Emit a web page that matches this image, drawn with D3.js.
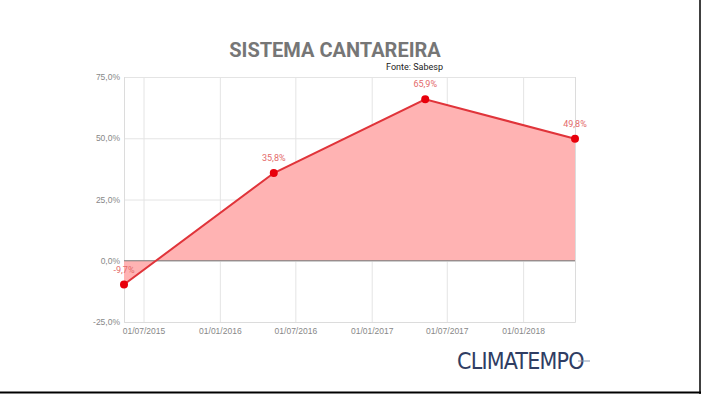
<!DOCTYPE html>
<html>
<head>
<meta charset="utf-8">
<script src="https://cdn.jsdelivr.net/npm/d3@7"></script>
<style>
  body { margin: 0; background: #fff; }
  svg { display: block; font-family: Roboto, "Open Sans", sans-serif; }
</style>
</head>
<body>
<svg id="drawing_region"></svg>
<script>
// data
const dates = ["2015-05-15", "2016-05-10", "2017-05-10", "2018-05-06"];
const values = [-9.7, 35.8, 65.9, 49.8];
const yTicks = [-25, 0, 25, 50, 75];
const xTicks = ["2015-07-01", "2016-01-01", "2016-07-01", "2017-01-01", "2017-07-01", "2018-01-01"];

const parse = d3.timeParse("%Y-%m-%d");
const data = dates.map((d, i) => ({ date: parse(d), value: values[i] }));

const config = {
    width: 701,
    height: 394,
    margin: { top: 77, right: 126, bottom: 72, left: 124 }
};

const svg = d3.select('#drawing_region')
    .attr('width', config.width)
    .attr('height', config.height);

const inner_width = config.width - config.margin.left - config.margin.right;
const inner_height = config.height - config.margin.top - config.margin.bottom;

const chart = svg.append('g')
    .attr('transform', `translate(${config.margin.left}, ${config.margin.top})`);

const x = d3.scaleTime()
    .domain(d3.extent(data, d => d.date))
    .range([0, inner_width]);

const y = d3.scaleLinear()
    .domain([-25, 75])
    .range([inner_height, 0]);

const fmt = v => d3.format(".1f")(v).replace(".", ",").replace("\u2212", "-") + "%";

// horizontal grid + y labels
const yAxis = d3.axisLeft(y)
    .tickValues(yTicks)
    .tickSize(-inner_width)
    .tickPadding(4)
    .tickFormat(fmt);

chart.append('g')
    .call(yAxis)
    .call(g => g.select('.domain').remove())
    .call(g => g.selectAll('.tick line').attr('stroke', '#e4e4e4'))
    .call(g => g.selectAll('.tick text')
        .attr('fill', '#888').style('font-size', '8.5px'));

// vertical grid + x labels
const xAxis = d3.axisBottom(x)
    .tickValues(xTicks.map(parse))
    .tickSize(-inner_height)
    .tickPadding(6)
    .tickFormat(d3.timeFormat("%d/%m/%Y"));

chart.append('g')
    .attr('transform', `translate(0, ${inner_height})`)
    .call(xAxis)
    .call(g => g.select('.domain').attr('stroke', '#dcdcdc'))
    .call(g => g.selectAll('.tick line').attr('stroke', '#e4e4e4'))
    .call(g => g.selectAll('.tick text')
        .attr('fill', '#888').style('font-size', '8.5px'));

// area to zero
const area = d3.area()
    .x(d => x(d.date))
    .y0(y(0))
    .y1(d => y(d.value));

chart.append('path')
    .datum(data)
    .attr('d', area)
    .attr('fill', '#ffb3b3');

// zero line
chart.append('line')
    .attr('x1', 0)
    .attr('x2', inner_width)
    .attr('y1', y(0))
    .attr('y2', y(0))
    .attr('stroke', '#7a7a7a')
    .attr('stroke-width', 1);

const line = d3.line()
    .x(d => x(d.date))
    .y(d => y(d.value));

chart.append('path')
    .datum(data)
    .attr('d', line)
    .attr('fill', 'none')
    .attr('stroke', '#e0343a')
    .attr('stroke-width', 2);

chart.selectAll('circle')
    .data(data)
    .enter()
    .append('circle')
    .attr('cx', d => x(d.date))
    .attr('cy', d => y(d.value))
    .attr('r', 4)
    .attr('fill', '#e8000b');

chart.selectAll('.val')
    .data(data)
    .enter()
    .append('text')
    .attr('class', 'val')
    .attr('x', d => x(d.date))
    .attr('y', d => d.value < 0 ? y(0) + 12 : y(d.value) - 12)
    .attr('text-anchor', 'middle')
    .attr('fill', '#e46a6a')
    .style('font-size', '9px')
    .text(d => fmt(d.value));

// title
svg.append('text')
    .attr('x', 335)
    .attr('y', 57)
    .attr('text-anchor', 'middle')
    .attr('fill', '#767676')
    .style('font-size', '20px')
    .style('font-weight', 'bold')
    .text('SISTEMA CANTAREIRA');

svg.append('text')
    .attr('x', 443)
    .attr('y', 70)
    .attr('text-anchor', 'end')
    .attr('fill', '#222')
    .style('font-size', '9px')
    .text('Fonte: Sabesp');

// logo
svg.append('text')
    .attr('x', 457)
    .attr('y', 369)
    .attr('fill', '#2f3d63')
    .style('font-family', '"Liberation Sans Narrow", "DejaVu Sans Condensed", sans-serif')
    .style('font-size', '23px')
    .style('letter-spacing', '-0.8px')
    .text('CLIMATEMPO');

svg.append('line')
    .attr('x1', 578).attr('x2', 590)
    .attr('y1', 361).attr('y2', 361)
    .attr('stroke', '#8a9bb5')
    .attr('stroke-width', 1);

// frame edges
svg.append('line')
    .attr('x1', 0).attr('x2', 701)
    .attr('y1', 392.5).attr('y2', 392.5)
    .attr('stroke', '#000').attr('stroke-width', 2);
svg.append('line')
    .attr('x1', 700).attr('x2', 700)
    .attr('y1', 0).attr('y2', 394)
    .attr('stroke', '#000').attr('stroke-width', 1.5);
</script>
</body>
</html>
